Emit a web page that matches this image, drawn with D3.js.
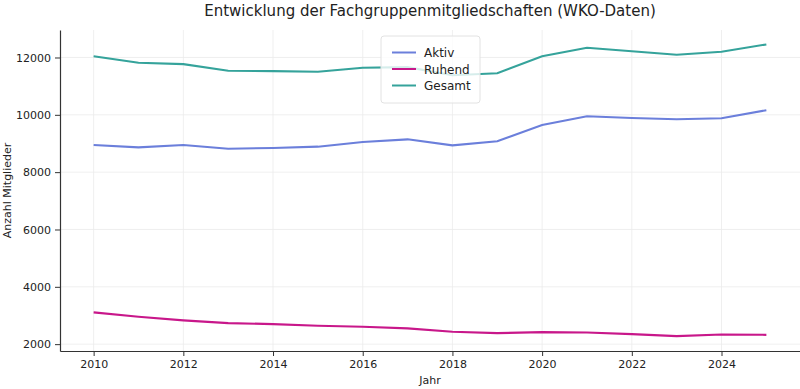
<!DOCTYPE html>
<html>
<head>
<meta charset="utf-8">
<script src="https://cdn.jsdelivr.net/npm/d3@7"></script>
<style>
    body { margin: 0; background: #fff; }
    svg { font-family: "DejaVu Sans", sans-serif; }
</style>
</head>
<body>
<div id="chart"></div>
<script>
// Data
const years = [2010, 2011, 2012, 2013, 2014, 2015, 2016, 2017, 2018, 2019, 2020, 2021, 2022, 2023, 2024, 2025];
const aktiv = [8949, 8865, 8949, 8819, 8843, 8889, 9053, 9145, 8935, 9075, 9645, 9950, 9890, 9845, 9880, 10160];
const ruhend = [3108, 2955, 2829, 2734, 2700, 2640, 2605, 2549, 2430, 2385, 2420, 2408, 2350, 2280, 2338, 2325];
const gesamt = [12046, 11815, 11767, 11536, 11524, 11500, 11640, 11664, 11380, 11452, 12046, 12340, 12220, 12095, 12200, 12456];
const yTicks = [2000, 4000, 6000, 8000, 10000, 12000];
const xTicks = [2010, 2012, 2014, 2016, 2018, 2020, 2022, 2024];

const series = [
    { name: "Aktiv", values: aktiv, color: "#6b7fdb" },
    { name: "Ruhend", values: ruhend, color: "#c8178a" },
    { name: "Gesamt", values: gesamt, color: "#35a39b" }
];

// Chart dimensions
const width = 800, height = 389;
const margin = { top: 30, right: 0, bottom: 38, left: 60 };

const svg = d3.select("#chart")
    .append("svg")
    .attr("width", width)
    .attr("height", height);

const x = d3.scaleLinear()
    .domain([2009.25, 2025.75])
    .range([margin.left, width - margin.right]);

const y = d3.scaleLinear()
    .domain([1761, 12959])
    .range([height - margin.bottom, margin.top]);

// Grid
const grid = svg.append("g").attr("stroke", "#ebebeb").attr("stroke-width", 0.8);
grid.selectAll(".gx").data(xTicks).enter().append("line")
    .attr("x1", d => x(d)).attr("x2", d => x(d))
    .attr("y1", margin.top).attr("y2", height - margin.bottom);
grid.selectAll(".gy").data(yTicks).enter().append("line")
    .attr("x1", margin.left).attr("x2", width - margin.right)
    .attr("y1", d => y(d)).attr("y2", d => y(d));

// Axes
const xAxis = svg.append("g")
    .attr("transform", `translate(0, ${height - margin.bottom})`)
    .call(d3.axisBottom(x).tickValues(xTicks).tickFormat(d3.format("d"))
        .tickSizeInner(5).tickSizeOuter(0).tickPadding(4));

const yAxis = svg.append("g")
    .attr("transform", `translate(${margin.left}, 0)`)
    .call(d3.axisLeft(y).tickValues(yTicks).tickFormat(d3.format("d"))
        .tickSizeInner(5).tickSizeOuter(0).tickPadding(4));

[xAxis, yAxis].forEach(g => {
    g.select(".domain").attr("stroke", "#333").attr("stroke-width", 1.2);
    g.selectAll(".tick line").attr("stroke", "#333").attr("stroke-width", 1);
    g.selectAll(".tick text").attr("fill", "#222").style("font-size", "11px").style("font-family", "DejaVu Sans");
});

// Lines
const line = values => d3.line()
    .x((d, i) => x(years[i]))
    .y(d => y(d))(values);

series.forEach(s => {
    svg.append("path")
        .attr("d", line(s.values))
        .attr("fill", "none")
        .attr("stroke", s.color)
        .attr("stroke-width", 2.1);
});

// Title and labels
svg.append("text")
    .attr("x", (margin.left + width - margin.right) / 2)
    .attr("y", 16)
    .attr("text-anchor", "middle")
    .style("font-size", "15px")
    .attr("fill", "#222")
    .text("Entwicklung der Fachgruppenmitgliedschaften (WKO-Daten)");

svg.append("text")
    .attr("x", (margin.left + width - margin.right) / 2)
    .attr("y", 384)
    .attr("text-anchor", "middle")
    .style("font-size", "11px")
    .attr("fill", "#222")
    .text("Jahr");

svg.append("text")
    .attr("transform", `translate(11, ${(margin.top + height - margin.bottom) / 2}) rotate(-90)`)
    .attr("text-anchor", "middle")
    .style("font-size", "11px")
    .attr("fill", "#222")
    .text("Anzahl Mitglieder");

// Legend
const legend = svg.append("g").attr("transform", "translate(381, 36)");
legend.append("rect")
    .attr("width", 99).attr("height", 67).attr("rx", 3)
    .attr("fill", "rgba(255,255,255,0.8)")
    .attr("stroke", "#e2e2e2");
series.forEach((s, i) => {
    const row = legend.append("g").attr("transform", `translate(0, ${16.5 + i * 16.5})`);
    row.append("line").attr("x1", 11).attr("x2", 35)
        .attr("stroke", s.color).attr("stroke-width", 2);
    row.append("text").attr("x", 43).attr("y", 4.5)
        .style("font-size", "12px").attr("fill", "#222")
        .text(s.name);
});
</script>
</body>
</html>
